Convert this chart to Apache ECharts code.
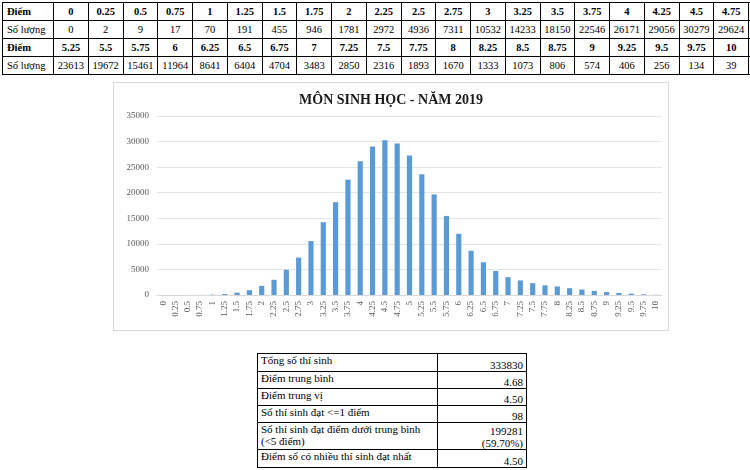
<!DOCTYPE html>
<html><head><meta charset="utf-8">
<script src="https://cdn.jsdelivr.net/npm/echarts@6/dist/echarts.min.js"></script>
<style>
html,body{margin:0;padding:0;width:750px;height:470px;overflow:hidden;background:#fff;font-family:"Liberation Serif","Times New Roman",serif;}
table{font-family:"Liberation Serif","Times New Roman",serif;}
#topTable{position:absolute;left:2px;top:2px;width:782px;border-collapse:collapse;table-layout:fixed;font-size:10.5px;}
#topTable td{border:1px solid #000;height:17px;padding:0;text-align:center;white-space:nowrap;overflow:hidden;}
#topTable td.h{text-align:left;padding-left:4px;font-weight:bold;}
#topTable td.l{text-align:left;padding-left:4px;}
#topTable tr.b td{font-weight:bold;}
#chart{position:absolute;left:113px;top:82px;width:554px;height:247px;border:1px solid #d9d9d9;}
#sumTable{position:absolute;left:257px;top:353px;width:269px;border-collapse:collapse;table-layout:fixed;font-size:11px;}
#sumTable td{border:1px solid #000;padding:0 3px;vertical-align:top;line-height:12px;}
#sumTable td.v{text-align:right;vertical-align:bottom;}
</style></head>
<body>
<table id="topTable"></table>
<div id="chart"></div>
<table id="sumTable"></table>
<script>
const scores = ["0","0.25","0.5","0.75","1","1.25","1.5","1.75","2","2.25","2.5","2.75","3","3.25","3.5","3.75","4","4.25","4.5","4.75","5","5.25","5.5","5.75","6","6.25","6.5","6.75","7","7.25","7.5","7.75","8","8.25","8.5","8.75","9","9.25","9.5","9.75","10"];
const counts = [0,2,9,17,70,191,455,946,1781,2972,4936,7311,10532,14233,18150,22546,26171,29056,30279,29624,27257,23613,19672,15461,11964,8641,6404,4704,3483,2850,2316,1893,1670,1333,1073,806,574,406,256,134,39];
const rowLabels = ["Điểm","Số lượng"];
const yTicks = [0,5000,10000,15000,20000,25000,30000,35000];
const chartTitle = "MÔN SINH HỌC - NĂM 2019";
const summaryLabels = ["Tổng số thí sinh","Điểm trung bình","Điểm trung vị","Số thí sinh đạt <=1 điểm","Số thí sinh đạt điểm dưới trung bình<br>(<5 điểm)","Điểm số có nhiều thí sinh đạt nhất"];
const summaryValues = ["333830","4.68","4.50","98","199281<br>(59.70%)","4.50"];

(function(){
  const tbl = document.getElementById('topTable');
  let html = '<colgroup><col style="width:51px">';
  for (let i=0;i<21;i++) html += '<col style="width:34.7px">';
  html += '</colgroup>';
  const halves = [scores.slice(0,21), scores.slice(21)];
  const chalves = [counts.slice(0,21), counts.slice(21)];
  for (let r=0;r<2;r++){
    html += '<tr class="b"><td class="h">'+rowLabels[0]+'</td>';
    for (let i=0;i<21;i++) html += '<td>'+(halves[r][i]!==undefined?halves[r][i]:'')+'</td>';
    html += '</tr><tr><td class="l">'+rowLabels[1]+'</td>';
    for (let i=0;i<21;i++) html += '<td>'+(chalves[r][i]!==undefined?chalves[r][i]:'')+'</td>';
    html += '</tr>';
  }
  tbl.innerHTML = html;

  const st = document.getElementById('sumTable');
  const rowH = [18,17,17,17,27,18];
  let sh = '<colgroup><col style="width:180px"><col style="width:89px"></colgroup>';
  for (let i=0;i<summaryLabels.length;i++){
    sh += '<tr style="height:'+rowH[i]+'px"><td style="text-align:justify;text-align-last:left">'+summaryLabels[i]+'</td><td class="v">'+summaryValues[i]+'</td></tr>';
  }
  st.innerHTML = sh;
})();

const chart = echarts.init(document.getElementById('chart'));
chart.setOption({
  animation:false,
  title:{text:chartTitle,left:'center',top:5,textStyle:{fontFamily:'Liberation Serif',fontSize:14,fontWeight:'bold',color:'#1a1a1a'}},
  grid:{left:43,right:6,top:33,bottom:35},
  xAxis:{type:'category',data:scores,
    axisLine:{show:true,lineStyle:{color:'#d9d9d9'}},axisTick:{show:false},
    axisLabel:{interval:0,rotate:90,fontFamily:'Liberation Serif',fontSize:9,color:'#595959',margin:6}},
  yAxis:{type:'value',min:yTicks[0],max:yTicks[yTicks.length-1],interval:yTicks[1]-yTicks[0],
    axisLine:{show:false},axisTick:{show:false},
    splitLine:{lineStyle:{color:'#e5e5e5'}},
    axisLabel:{fontFamily:'Liberation Serif',fontSize:9,color:'#595959',margin:8,formatter:function(v){return String(v);}}},
  series:[{type:'bar',data:counts,barWidth:'42%',itemStyle:{color:'#5b9bd5'}}]
});
</script>
</body></html>
